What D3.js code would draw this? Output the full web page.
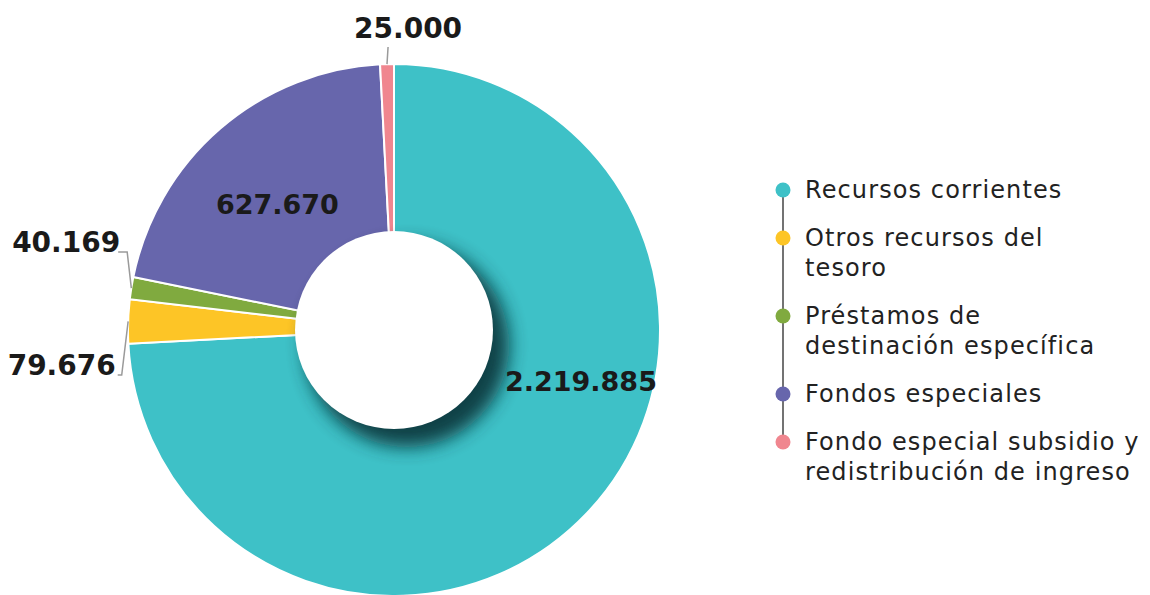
<!DOCTYPE html>
<html>
<head>
<meta charset="utf-8">
<script src="https://cdn.jsdelivr.net/npm/d3@7"></script>
<style>
  body { margin: 0; background: #fff; }
  svg text { font-family: "DejaVu Sans", sans-serif; }
</style>
</head>
<body>
<svg id="chart" width="1150" height="595"></svg>
<script>
// data
const categories = [
  'Recursos corrientes',
  'Otros recursos del tesoro',
  'Préstamos de destinación específica',
  'Fondos especiales',
  'Fondo especial subsidio y redistribución de ingreso'
];
const values = [2219885, 79676, 40169, 627670, 25000];
const valueLabels = ['2.219.885', '79.676', '40.169', '627.670', '25.000'];
const legendLines = [
  ['Recursos corrientes'],
  ['Otros recursos del', 'tesoro'],
  ['Préstamos de', 'destinación específica'],
  ['Fondos especiales'],
  ['Fondo especial subsidio y', 'redistribución de ingreso']
];
const colors = ['#3ec1c7', '#fdc526', '#80aa3f', '#6766ac', '#f0868f'];

// layout
const cx = 394, cy = 330, outerR = 266, innerR = 99;
// label placement: inside labels use angle (deg) + radius; outside ones get a leader elbow
const labelLayout = [
  { inside: true, angle: 105.5, r: 194 },
  { inside: false, angle: 260.6, r: 276, anchor: 'end', dx: -2, dy: 0, tail: -4 },
  { inside: false, angle: 286.3, r: 278, anchor: 'end', dx: 2, dy: 0, tail: -9 },
  { inside: true, angle: 317, r: 171 },
  { inside: false, angle: 358.8, r: 283, anchor: 'middle', dx: 20, dy: -9, tail: 0 }
];

const svg = d3.select('#chart');
const defs = svg.append('defs');

const blur = defs.append('filter').attr('id', 'holeShadow')
  .attr('x', '-50%').attr('y', '-50%').attr('width', '200%').attr('height', '200%');
blur.append('feGaussianBlur').attr('stdDeviation', 9);

defs.append('clipPath').attr('id', 'donutClip')
  .append('circle').attr('cx', 0).attr('cy', 0).attr('r', outerR);

const g = svg.append('g').attr('transform', `translate(${cx},${cy})`);

const pie = d3.pie().sort(null).value(d => d);
const arcs = pie(values);
const arc = d3.arc().innerRadius(0).outerRadius(outerR);

g.selectAll('path.slice')
  .data(arcs)
  .enter()
  .append('path')
  .attr('class', 'slice')
  .attr('d', arc)
  .attr('fill', (d, i) => colors[i])
  .attr('stroke', '#fff')
  .attr('stroke-width', 2);

// shadow of the hole + the hole itself
g.append('g').attr('clip-path', 'url(#donutClip)')
  .append('circle')
  .attr('cx', 13).attr('cy', 15).attr('r', innerR + 3)
  .attr('fill', '#103a3f')
  .attr('opacity', 0.95)
  .attr('filter', 'url(#holeShadow)');
g.append('circle').attr('r', innerR).attr('fill', '#fff');

// value labels
const rad = a => a * Math.PI / 180;
arcs.forEach((d, i) => {
  const L = labelLayout[i];
  if (L.inside) {
    const [x, y] = d3.pointRadial(rad(L.angle), L.r);
    g.append('text')
      .attr('x', x).attr('y', y)
      .attr('text-anchor', 'middle')
      .attr('dominant-baseline', 'central')
      .attr('font-weight', 'bold')
      .attr('font-size', 27)
      .attr('fill', '#1a1a1a')
      .text(valueLabels[i]);
  } else {
    const mid = (d.startAngle + d.endAngle) / 2;
    const p0 = d3.pointRadial(mid, outerR);
    const p1 = d3.pointRadial(rad(L.angle), L.r);
    const p2 = [p1[0] + L.tail, p1[1]];
    g.append('polyline')
      .attr('points', [p0, p1, p2].map(p => p.join(',')).join(' '))
      .attr('fill', 'none')
      .attr('stroke', '#9a9a9a')
      .attr('stroke-width', 1.5);
    g.append('text')
      .attr('x', p2[0] + L.dx).attr('y', p2[1] + L.dy)
      .attr('text-anchor', L.anchor)
      .attr('font-weight', 'bold')
      .attr('font-size', 28)
      .attr('fill', '#1a1a1a')
      .text(valueLabels[i]);
  }
});

// legend
const legendX = 783, legendTop = 190, itemStep = 48, lineStep = 30;
const legendY = [];
let yy = legendTop;
legendLines.forEach((lines) => {
  legendY.push(yy);
  yy += itemStep + (lines.length - 1) * lineStep;
});

const legend = svg.append('g');
legend.append('line')
  .attr('x1', legendX).attr('x2', legendX)
  .attr('y1', legendY[0]).attr('y2', legendY[legendY.length - 1])
  .attr('stroke', '#444').attr('stroke-width', 1.5);

categories.forEach((c, i) => {
  legend.append('circle')
    .attr('cx', legendX).attr('cy', legendY[i]).attr('r', 7.5)
    .attr('fill', colors[i]);
  const t = legend.append('text')
    .attr('x', legendX + 22)
    .attr('y', legendY[i] + 8)
    .attr('font-size', 24)
    .attr('letter-spacing', 1.1)
    .attr('fill', '#222');
  legendLines[i].forEach((ln, j) => {
    t.append('tspan').attr('x', legendX + 22).attr('dy', j === 0 ? 0 : lineStep).text(ln);
  });
});
</script>
</body>
</html>
